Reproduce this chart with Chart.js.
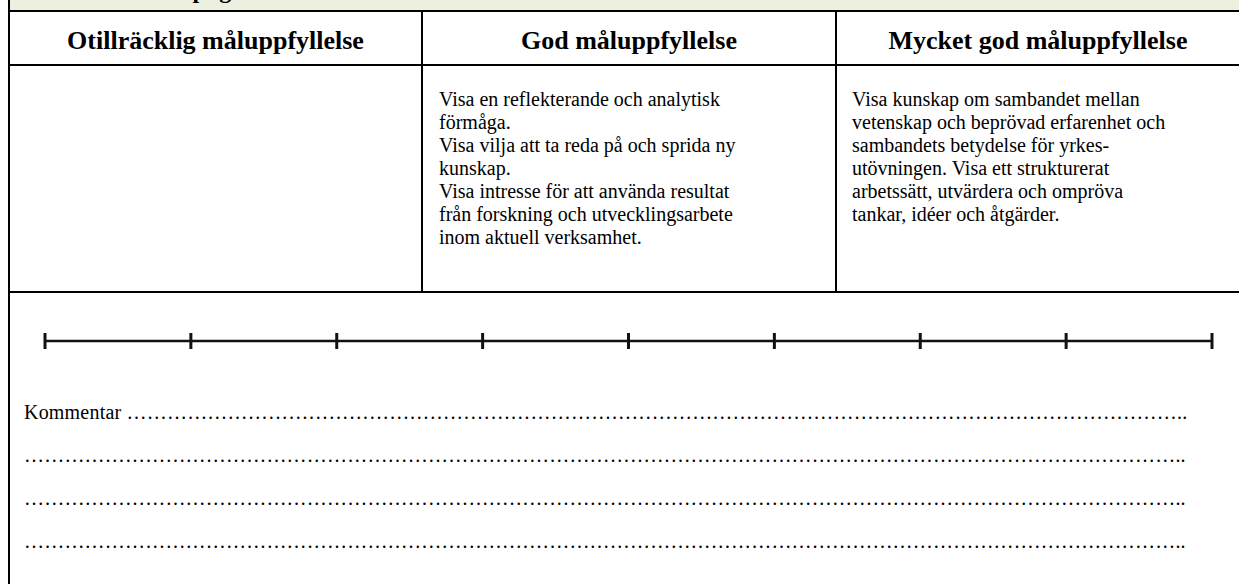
<!DOCTYPE html>
<html>
<head>
<meta charset="utf-8">
<script src="https://cdn.jsdelivr.net/npm/chart.js"></script>
<style>
  body { margin: 0; background: #fff; }
  #page { position: relative; width: 1239px; height: 584px; overflow: hidden; font-family: "Liberation Serif", "Times New Roman", serif; color: #000; }
  .abs { position: absolute; }
  .band { left: 8px; top: 0; width: 1240px; height: 10px; background: #ebf1de; overflow: hidden; }
  .band span { position: absolute; left: 92px; top: -22px; font-weight: bold; font-size: 24px; line-height: 24px; white-space: nowrap; }
  .hline { background: #000; height: 2px; }
  .vline { background: #000; width: 2px; }
  .head { top: 18px; height: 46px; font-weight: bold; font-size: 26px; text-align: center; line-height: 46px; white-space: nowrap; }
  .cell { top: 88px; font-size: 20px; line-height: 23px; white-space: nowrap; }
  .note { left: 24px; font-size: 20px; letter-spacing: 0.2px; white-space: nowrap; }
  #scaleBox { position: absolute; left: 34px; top: 321px; width: 1189px; height: 40px; }
</style>
</head>
<body>
<div id="page">
  <div class="abs band"><span>Vetenskapligt arbetssätt</span></div>
  <div class="abs vline" style="left:8px;top:0;height:584px"></div>
  <div class="abs hline" style="left:8px;top:10px;width:1240px"></div>
  <div class="abs hline" style="left:8px;top:64px;width:1240px"></div>
  <div class="abs hline" style="left:8px;top:291px;width:1240px"></div>
  <div class="abs vline" style="left:421px;top:12px;height:280px"></div>
  <div class="abs vline" style="left:835px;top:12px;height:280px"></div>

  <div id="h0" class="abs head" style="left:10px;width:411px"></div>
  <div id="h1" class="abs head" style="left:423px;width:412px"></div>
  <div id="h2" class="abs head" style="left:837px;width:402px"></div>

  <div id="c1" class="abs cell" style="left:439px"></div>
  <div id="c2" class="abs cell" style="left:852px"></div>

  <div id="scaleBox"><canvas id="scale" width="1189" height="40"></canvas></div>

  <div id="notes"></div>
</div>
<script>
// Column headings and cell texts
const levels = ["Otillräcklig måluppfyllelse", "God måluppfyllelse", "Mycket god måluppfyllelse"];
const goodText = [
  "Visa en reflekterande och analytisk",
  "förmåga.",
  "Visa vilja att ta reda på och sprida ny",
  "kunskap.",
  "Visa intresse för att använda resultat",
  "från forskning och utvecklingsarbete",
  "inom aktuell verksamhet."
];
const veryGoodText = [
  "Visa kunskap om sambandet mellan",
  "vetenskap och beprövad erfarenhet och",
  "sambandets betydelse för yrkes-",
  "utövningen. Visa ett strukturerat",
  "arbetssätt, utvärdera och ompröva",
  "tankar, idéer och åtgärder."
];
// Scale: 9 tick marks, 8 steps
const scalePoints = [0, 1, 2, 3, 4, 5, 6, 7, 8];
const noteLines = ["Kommentar ", "", "", ""];

levels.forEach((t, i) => {
  document.getElementById("h" + i).textContent = t;
});
document.getElementById("c1").innerHTML = goodText.join("<br>");
document.getElementById("c2").innerHTML = veryGoodText.join("<br>");

// dotted comment lines
const notes = document.getElementById("notes");
noteLines.forEach((t, i) => {
  const d = document.createElement("div");
  d.className = "abs note";
  d.style.top = (401 + i * 43) + "px";
  d.textContent = t + "…".repeat(t ? 52 : 57) + "..";
  notes.appendChild(d);
});

const ctx = document.getElementById("scale").getContext("2d");
const scaleChart = new Chart(ctx, {
  type: "line",
  data: {
    datasets: [
      {
        data: scalePoints.map((p) => ({ x: p, y: 0 })),
        borderColor: "#111",
        borderWidth: 2.5,
        pointStyle: "line",
        rotation: 90,
        pointRadius: 8,
        pointBorderWidth: 3,
        pointBorderColor: "#111",
        clip: false,
      },
    ],
  },
  options: {
    animation: false,
    responsive: false,
    layout: { padding: 10 },
    scales: {
      x: { type: "linear", min: 0, max: 8, display: false },
      y: { min: -1, max: 1, display: false },
    },
    plugins: {
      legend: { display: false },
      tooltip: { enabled: false },
    },
  },
});
</script>
</body>
</html>
